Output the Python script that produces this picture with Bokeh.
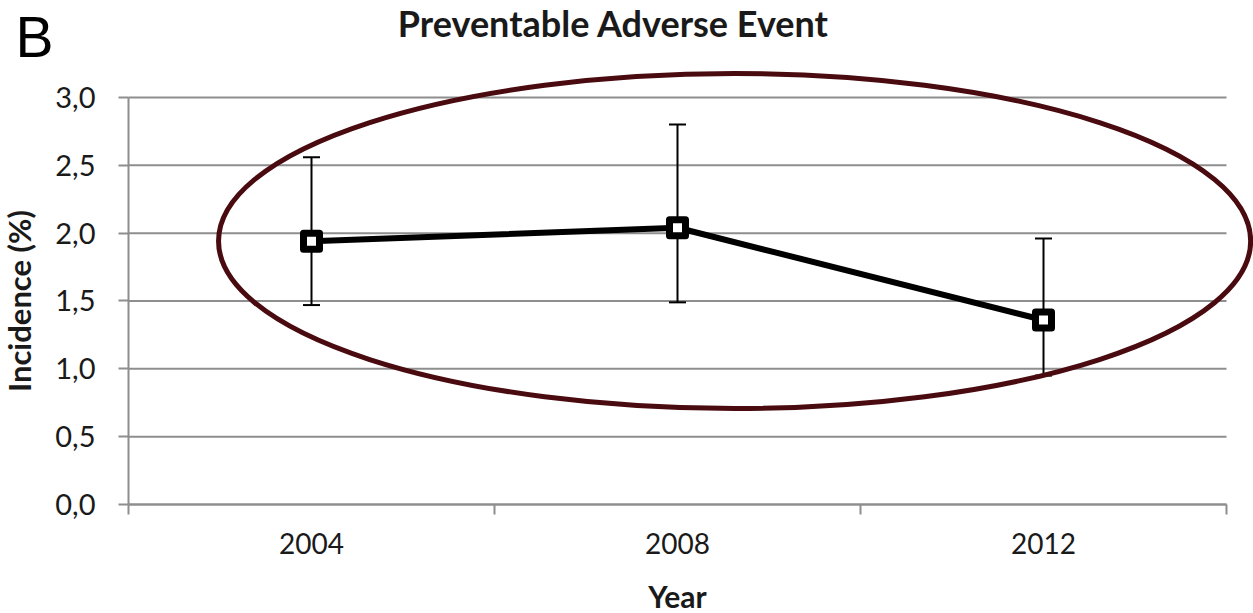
from bokeh.plotting import figure
from bokeh.models import FixedTicker, Label, CustomJSTickFormatter
from bokeh.embed import file_html
from bokeh.resources import INLINE

# ---- data ----
years = ["2004", "2008", "2012"]
incidence = [1.94, 2.04, 1.36]
ci_lower = [1.47, 1.49, 0.95]
ci_upper = [2.56, 2.80, 1.96]
y_ticks = [0.0, 0.5, 1.0, 1.5, 2.0, 2.5, 3.0]

x = [i + 0.5 for i in range(len(years))]
x_bounds = list(range(len(years) + 1))

W, H = 1253, 613
PX_X = 366.0      # pixels per category
PX_Y = 135.67     # pixels per 1.0 %
p = figure(width=W, height=H,
           x_range=(-128 / PX_X, (W - 128) / PX_X),
           y_range=(-(H - 504) / PX_Y, 504 / PX_Y),
           output_backend="svg", toolbar_location=None,
           min_border_left=0, min_border_right=0, min_border_top=0, min_border_bottom=0)
p.outline_line_color = None
p.xgrid.visible = False
p.ygrid.visible = False
p.background_fill_color = "white"

GRID = "#8e8e8e"
FONT = "Lato"

# horizontal gridlines
p.segment(x0=0, x1=len(years), y0=y_ticks, y1=y_ticks, line_color=GRID, line_width=2)

# error bars
p.segment(x0=x, x1=x, y0=ci_lower, y1=ci_upper, line_color="black", line_width=2)
p.scatter(x=x + x, y=ci_lower + ci_upper, marker="dash", size=17, line_color="black", line_width=2)

# series line and markers
p.line(x=x, y=incidence, line_color="black", line_width=6)
p.scatter(x=x, y=incidence, marker="square", size=16, fill_color="white",
          line_color="black", line_width=7, line_join="round")

# highlight ellipse
p.ellipse(x=1.656, y=1.942, width=2.82, height=2.47, fill_color=None,
          line_color="#4a0b10", line_width=5)

# axes
ya = p.yaxis[0]
ya.fixed_location = 0
ya.ticker = FixedTicker(ticks=y_ticks)
ya.formatter = CustomJSTickFormatter(code="return tick.toFixed(1).replace('.', ',');")
ya.bounds = (0, 3)
ya.axis_line_color = GRID
ya.axis_line_width = 2
ya.major_tick_line_color = GRID
ya.major_tick_line_width = 2
ya.major_tick_out = 10
ya.major_tick_in = 0
ya.minor_tick_line_color = None
ya.major_label_standoff = 23
ya.major_label_text_font = FONT
ya.major_label_text_font_size = "29px"
ya.major_label_text_color = "#1a1a1a"
ya.axis_label = "Incidence (%)"
ya.axis_label_text_font = FONT
ya.axis_label_text_font_style = "bold"
ya.axis_label_text_font_size = "31px"
ya.axis_label_text_color = "#1a1a1a"
ya.axis_label_standoff = 14

xa = p.xaxis[0]
xa.fixed_location = 0
xa.ticker = FixedTicker(ticks=x, minor_ticks=x_bounds)
xa.formatter = CustomJSTickFormatter(args=dict(years=years),
                                     code="return years[Math.floor(tick)];")
xa.bounds = (0, 3)
xa.axis_line_color = GRID
xa.axis_line_width = 2
xa.major_tick_line_color = None
xa.major_tick_out = 0
xa.major_tick_in = 0
xa.minor_tick_line_color = GRID
xa.minor_tick_line_width = 2
xa.minor_tick_out = 10
xa.minor_tick_in = 0
xa.major_label_standoff = 18
xa.major_label_text_font = FONT
xa.major_label_text_font_size = "28px"
xa.major_label_text_color = "#1a1a1a"
xa.axis_label = "Year"
xa.axis_label_text_font = FONT
xa.axis_label_text_font_style = "bold"
xa.axis_label_text_font_size = "30px"
xa.axis_label_text_color = "#1a1a1a"
xa.axis_label_standoff = 21

# title and panel letter
p.add_layout(Label(x=485 / PX_X, y=482 / PX_Y,
                   text="Preventable Adverse Event", text_align="center",
                   text_baseline="alphabetic", text_font=FONT, text_font_style="bold",
                   text_font_size="36px", text_color="#1a1a1a"))
p.add_layout(Label(x=-113 / PX_X, y=468 / PX_Y,
                   text="B", text_align="left", text_baseline="alphabetic",
                   text_font="Liberation Sans", text_font_size="57px", text_color="black"))

open("out.html", "w").write(file_html(p, INLINE))
